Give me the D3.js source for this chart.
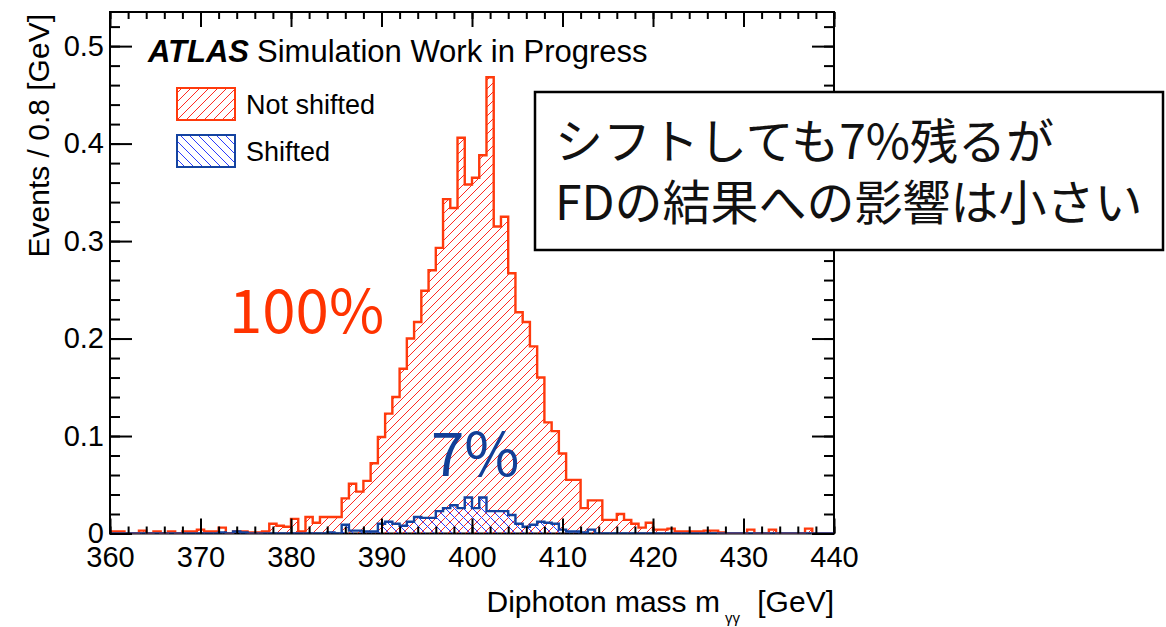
<!DOCTYPE html>
<html>
<head>
<meta charset="utf-8">
<script src="https://cdn.jsdelivr.net/npm/d3@7"></script>
<style>
  html, body { margin: 0; padding: 0; background: #ffffff; }
  svg { display: block; }
</style>
</head>
<body>
<svg id="chart" width="1166" height="627"></svg>
<script>
// Diphoton mass window and binning (100 bins of 0.8 GeV)
const massRange = [360, 440];
const binWidth = 0.8;

// Events / 0.8 GeV, not shifted
const notShifted = [
  0.002, 0.002, 0.000, 0.000, 0.003, 0.000, 0.002, 0.000, 0.002, 0.000,
  0.002, 0.002, 0.004, 0.002, 0.002, 0.006, 0.000, 0.002, 0.002, 0.001,
  0.001, 0.002, 0.010, 0.008, 0.007, 0.015, 0.002, 0.017, 0.011, 0.017,
  0.017, 0.017, 0.036, 0.051, 0.043, 0.054, 0.072, 0.099, 0.123, 0.140,
  0.169, 0.200, 0.217, 0.249, 0.270, 0.293, 0.343, 0.334, 0.406, 0.358,
  0.365, 0.388, 0.468, 0.315, 0.325, 0.267, 0.227, 0.217, 0.192, 0.160,
  0.114, 0.105, 0.082, 0.055, 0.055, 0.026, 0.034, 0.034, 0.014, 0.014,
  0.020, 0.014, 0.010, 0.006, 0.011, 0.004, 0.004, 0.005, 0.002, 0.002,
  0.002, 0.002, 0.003, 0.003, 0.001, 0.000, 0.000, 0.000, 0.004, 0.000,
  0.000, 0.004, 0.000, 0.000, 0.000, 0.000, 0.005, 0.000, 0.000, 0.000
];

// Events / 0.8 GeV, shifted
const shifted = [
  0.000, 0.000, 0.000, 0.000, 0.000, 0.000, 0.000, 0.000, 0.000, 0.000,
  0.000, 0.000, 0.000, 0.000, 0.000, 0.001, 0.000, 0.002, 0.001, 0.000,
  0.000, 0.000, 0.000, 0.000, 0.000, 0.000, 0.000, 0.000, 0.000, 0.000,
  0.001, 0.000, 0.009, 0.003, 0.003, 0.002, 0.002, 0.010, 0.012, 0.010,
  0.008, 0.012, 0.017, 0.016, 0.016, 0.023, 0.026, 0.029, 0.026, 0.037,
  0.026, 0.037, 0.023, 0.023, 0.023, 0.019, 0.010, 0.007, 0.009, 0.012,
  0.011, 0.010, 0.004, 0.002, 0.002, 0.001, 0.004, 0.000, 0.000, 0.000,
  0.000, 0.000, 0.000, 0.000, 0.000, 0.000, 0.000, 0.000, 0.000, 0.000,
  0.000, 0.000, 0.000, 0.000, 0.000, 0.000, 0.000, 0.000, 0.000, 0.000,
  0.000, 0.000, 0.000, 0.000, 0.000, 0.000, 0.000, 0.000, 0.000, 0.000
];

const xTickValues = [360, 370, 380, 390, 400, 410, 420, 430, 440];
const xTickLabels = ["360", "370", "380", "390", "400", "410", "420", "430", "440"];
const yTickValues = [0, 0.1, 0.2, 0.3, 0.4, 0.5];
const yTickLabels = ["0", "0.1", "0.2", "0.3", "0.4", "0.5"];
const legendLabels = ["Not shifted", "Shifted"];
const shareLabels = ["100%", "7%"];
const noteLines = ["シフトしても7%残るが", "FDの結果への影響は小さい"];

// ---------------------------------------------------------------
const W = 1166, H = 627;
const frame = { left: 110, right: 834, top: 12, bottom: 533.5 };
const yMax = 0.535;

const red = "#ff3a0c", redHatch = "#ff2a22";
const blue = "#1443a0", blueHatch = "#2b3cff";
const txtFont = "'Liberation Sans', Arial, Helvetica, sans-serif";
const jpFont = "'Noto Sans CJK JP', 'Noto Sans CJK SC', sans-serif";

const svg = d3.select("#chart");
svg.append("rect").attr("width", W).attr("height", H).attr("fill", "#fff");

const x = d3.scaleLinear().domain(massRange).range([frame.left, frame.right]);
const y = d3.scaleLinear().domain([0, yMax]).range([frame.bottom, frame.top]);

// hatch patterns
const defs = svg.append("defs");
function hatch(id, color, forward) {
  const s = 9;
  const p = defs.append("pattern")
    .attr("id", id).attr("patternUnits", "userSpaceOnUse")
    .attr("width", s).attr("height", s);
  const d = forward
    ? `M0,${s} L${s},0 M${-s / 2},${s / 2} L${s / 2},${-s / 2} M${s / 2},${s * 1.5} L${s * 1.5},${s / 2}`
    : `M0,0 L${s},${s} M${-s / 2},${s / 2} L${s / 2},${s * 1.5} M${s / 2},${-s / 2} L${s * 1.5},${s / 2}`;
  p.append("path").attr("d", d).attr("stroke", color).attr("stroke-width", 1).attr("fill", "none");
}
hatch("hatchRed", redHatch, true);
hatch("hatchBlue", blueHatch, false);

// clip for everything inside the frame
defs.append("clipPath").attr("id", "plotClip")
  .append("rect").attr("x", frame.left).attr("y", frame.top)
  .attr("width", frame.right - frame.left).attr("height", frame.bottom - frame.top);

// step outline points of a histogram
function stepPoints(values) {
  const pts = [[massRange[0], 0]];
  values.forEach((v, i) => {
    const lo = massRange[0] + i * binWidth;
    pts.push([lo, v], [lo + binWidth, v]);
  });
  pts.push([massRange[1], 0]);
  return pts;
}
const line = d3.line().x(d => x(d[0])).y(d => y(d[1]));
const area = d3.area().x(d => x(d[0])).y0(y(0)).y1(d => y(d[1]));

// frame box
svg.append("rect")
  .attr("x", frame.left).attr("y", frame.top)
  .attr("width", frame.right - frame.left).attr("height", frame.bottom - frame.top)
  .attr("fill", "none").attr("stroke", "#000").attr("stroke-width", 2);

const plot = svg.append("g").attr("clip-path", "url(#plotClip)");
function drawHist(values, fillId, stroke) {
  const pts = stepPoints(values);
  plot.append("path").attr("d", area(pts)).attr("fill", `url(#${fillId})`);
  plot.append("path").attr("d", line(pts))
    .attr("fill", "none").attr("stroke", stroke)
    .attr("stroke-width", 2.4).attr("stroke-linejoin", "miter");
}
drawHist(notShifted, "hatchRed", red);
drawHist(shifted, "hatchBlue", blue);

// axes: major ticks with labels, minor ticks, mirrored on the opposite sides
function styleAxis(g) {
  g.select(".domain").remove();
  g.selectAll(".tick line").attr("stroke", "#000").attr("stroke-width", 2);
  g.selectAll(".tick text").attr("fill", "#000")
    .style("font-family", txtFont).style("font-size", "29px");
}
const xMinor = d3.range(massRange[0], massRange[1] + 0.01, 2);
const yMinor = d3.range(0, 0.521, 0.02);

svg.append("g").attr("transform", `translate(0,${frame.bottom})`)
  .call(d3.axisBottom(x).tickValues(xMinor).tickSizeInner(-7).tickFormat(""))
  .call(styleAxis);
svg.append("g").attr("transform", `translate(0,${frame.bottom})`)
  .call(d3.axisBottom(x).tickValues(xTickValues).tickSizeInner(-15).tickPadding(13)
    .tickFormat((d, i) => xTickLabels[i]))
  .call(styleAxis);
svg.append("g").attr("transform", `translate(0,${frame.top})`)
  .call(d3.axisTop(x).tickValues(xMinor).tickSizeInner(-7).tickFormat(""))
  .call(styleAxis);
svg.append("g").attr("transform", `translate(0,${frame.top})`)
  .call(d3.axisTop(x).tickValues(xTickValues).tickSizeInner(-15).tickFormat(""))
  .call(styleAxis);

svg.append("g").attr("transform", `translate(${frame.left},0)`)
  .call(d3.axisLeft(y).tickValues(yMinor).tickSizeInner(-10).tickFormat(""))
  .call(styleAxis);
svg.append("g").attr("transform", `translate(${frame.left},0)`)
  .call(d3.axisLeft(y).tickValues(yTickValues).tickSizeInner(-22).tickPadding(6)
    .tickFormat((d, i) => yTickLabels[i]))
  .call(styleAxis);
svg.append("g").attr("transform", `translate(${frame.right},0)`)
  .call(d3.axisRight(y).tickValues(yMinor).tickSizeInner(-10).tickFormat(""))
  .call(styleAxis);
svg.append("g").attr("transform", `translate(${frame.right},0)`)
  .call(d3.axisRight(y).tickValues(yTickValues).tickSizeInner(-22).tickFormat(""))
  .call(styleAxis);

// axis titles
svg.append("text")
  .attr("transform", `translate(49,${frame.top + 2}) rotate(-90)`)
  .attr("text-anchor", "end")
  .style("font-family", txtFont).style("font-size", "30px")
  .text("Events / 0.8 [GeV]");

const xt = svg.append("text")
  .attr("x", frame.right).attr("y", 612)
  .attr("text-anchor", "end")
  .style("font-family", txtFont).style("font-size", "30px");
xt.append("tspan").text("Diphoton mass m");
xt.append("tspan").attr("dx", 5).attr("dy", 11).style("font-size", "15px").text("γγ");
xt.append("tspan").attr("dx", 9).attr("dy", -11).text(" [GeV]");

// ATLAS label
const atl = svg.append("text").attr("x", 148).attr("y", 62)
  .style("font-family", txtFont).style("font-size", "31px");
atl.append("tspan").style("font-weight", "bold").style("font-style", "italic").text("ATLAS");
atl.append("tspan").attr("dx", 8).text("Simulation Work in Progress");

// legend
const legend = [
  { label: legendLabels[0], stroke: red, fill: "hatchRed", y: 88 },
  { label: legendLabels[1], stroke: blue, fill: "hatchBlue", y: 135 }
];
legend.forEach(d => {
  svg.append("rect").attr("x", 177).attr("y", d.y).attr("width", 58).attr("height", 32)
    .attr("fill", `url(#${d.fill})`).attr("stroke", d.stroke).attr("stroke-width", 2);
  svg.append("text").attr("x", 246).attr("y", d.y + 26)
    .style("font-family", txtFont).style("font-size", "27px").text(d.label);
});

// share annotations
svg.append("text").attr("x", 229).attr("y", 333)
  .attr("fill", "#ff3300")
  .style("font-family", jpFont).style("font-size", "60px")
  .text(shareLabels[0]);
svg.append("text").attr("x", 431).attr("y", 476)
  .attr("fill", "#123f97")
  .style("font-family", jpFont).style("font-size", "60px")
  .text(shareLabels[1]);

// note box
svg.append("rect").attr("x", 535).attr("y", 92).attr("width", 628).attr("height", 158)
  .attr("fill", "#fff").attr("stroke", "#000").attr("stroke-width", 2.5);
noteLines.forEach((t, i) => {
  svg.append("text").attr("x", 555).attr("y", 159 + i * 61)
    .attr("fill", "#111")
    .style("font-family", jpFont).style("font-size", "48px")
    .text(t);
});
</script>
</body>
</html>
